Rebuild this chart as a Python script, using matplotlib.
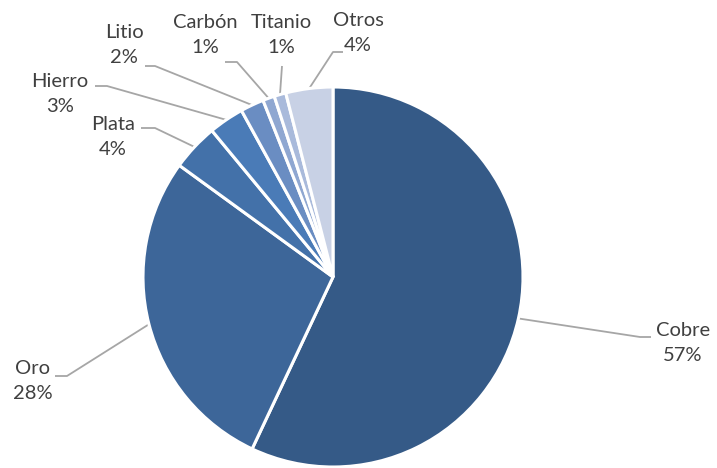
import numpy as np
import matplotlib.pyplot as plt

labels = ['Cobre', 'Oro', 'Plata', 'Hierro', 'Litio', 'Carbón', 'Titanio', 'Otros']
shares = [57, 28, 4, 3, 2, 1, 1, 4]
colors = ['#355a87', '#3d6699', '#4371a9', '#4a7bb7', '#6a8dc2',
          '#8fa7d1', '#a9badb', '#c8d1e5']

# label layout in pixels (x, y from top): text centre, elbow, end of short tail
text_pos = {
    'Cobre': (683, 343), 'Oro': (33, 381), 'Plata': (113, 137),
    'Hierro': (60, 94), 'Litio': (124, 45), 'Carbón': (205, 35),
    'Titanio': (281, 35), 'Otros': (358, 33),
}
elbow = {
    'Cobre': (640, 337), 'Oro': (67, 376), 'Plata': (155, 128),
    'Hierro': (107, 86), 'Litio': (155, 66), 'Carbón': (237, 62),
    'Titanio': (282, 66), 'Otros': (333, 52),
}
tail = {
    'Cobre': (651, 337), 'Oro': (55, 376), 'Plata': (141, 128),
    'Hierro': (95, 86), 'Litio': (145, 66), 'Carbón': (225, 62),
    'Titanio': (282, 66), 'Otros': (343, 52),
}

W, H = 717, 468
cx, cy, r = 333, 277, 190

plt.rcParams['font.family'] = ['Lato', 'DejaVu Sans']
fig = plt.figure(figsize=(W / 100, H / 100), dpi=100)
ax = fig.add_axes([0, 0, 1, 1])

wedges, _ = ax.pie(shares, colors=colors, startangle=90, counterclock=False,
                   center=(cx, H - cy), radius=r,
                   wedgeprops=dict(edgecolor='white', linewidth=2.2))

# pie() resets the limits, so set pixel space afterwards
ax.set_xlim(0, W)
ax.set_ylim(0, H)
ax.set_aspect('equal')
ax.axis('off')

for w, name, v in zip(wedges, labels, shares):
    mid = np.deg2rad((w.theta1 + w.theta2) / 2)
    sx = cx + r * np.cos(mid)
    sy = (H - cy) + r * np.sin(mid)
    ex, ey = elbow[name]
    tx, ty = tail[name]
    ax.plot([sx, ex, tx], [sy, H - ey, H - ty], color='#a6a6a6', lw=1.3,
            solid_capstyle='butt', zorder=0)
    px, py = text_pos[name]
    ax.text(px, H - py, f'{name}\n{v}%', ha='center', va='center',
            fontsize=14.5, color='#404040', linespacing=1.6)

fig.savefig('out.png', dpi=100, facecolor='white')
